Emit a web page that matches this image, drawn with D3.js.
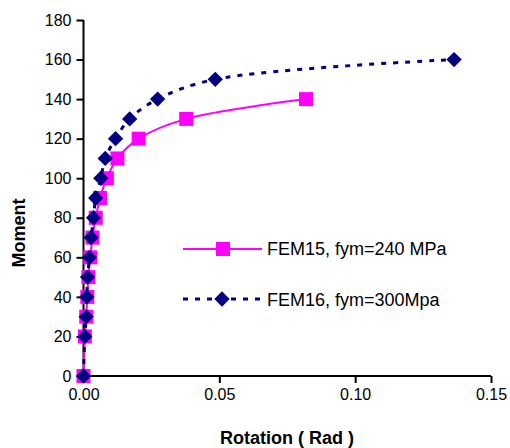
<!DOCTYPE html>
<html>
<head>
<meta charset="utf-8">
<script src="https://cdn.jsdelivr.net/npm/d3@7"></script>
<style>
  html, body { margin: 0; padding: 0; background: #fff; }
  svg { display: block; font-family: Arial, "Liberation Sans", sans-serif; }
</style>
</head>
<body>
<svg id="chart" width="510" height="448"></svg>
<script>
// ---- data ----
const fem15Rotation = [0, 0.0005, 0.0010, 0.0014, 0.0018, 0.0025, 0.0033, 0.0045, 0.0061, 0.0086, 0.0125, 0.0203, 0.0378, 0.0819];
const fem15Moment   = [0, 20, 30, 40, 50, 60, 70, 80, 90, 100, 110, 120, 130, 140];
const fem16Rotation = [0, 0.0005, 0.0010, 0.0012, 0.0015, 0.0022, 0.0028, 0.0037, 0.0045, 0.0064, 0.0080, 0.0118, 0.0170, 0.0273, 0.0485, 0.1364];
const fem16Moment   = [0, 20, 30, 40, 50, 60, 70, 80, 90, 100, 110, 120, 130, 140, 150, 160];
const xTicks = [0, 0.05, 0.10, 0.15];
const yTicks = [0, 20, 40, 60, 80, 100, 120, 140, 160, 180];
const seriesNames = ["FEM15, fym=240 MPa", "FEM16, fym=300Mpa"];

const svg = d3.select("#chart");
const x = d3.scaleLinear().domain([0, 0.15]).range([83.5, 491]);
const y = d3.scaleLinear().domain([0, 180]).range([376, 20]);

const pink = "#FF00FF", navy = "#000080";

// axes
const xAxis = d3.axisBottom(x).tickValues(xTicks).tickFormat(d3.format(".2f")).tickSize(7).tickPadding(6);
const yAxis = d3.axisLeft(y).tickValues(yTicks).tickFormat(d3.format("d")).tickSize(7).tickPadding(5);

const gx = svg.append("g").attr("transform", `translate(0,${y(0)})`).call(xAxis);
const gy = svg.append("g").attr("transform", `translate(${x(0)},0)`).call(yAxis);
[gx, gy].forEach(g => {
  g.select(".domain").attr("stroke", "#000").attr("stroke-width", 2);
  g.selectAll(".tick line").attr("stroke", "#000").attr("stroke-width", 2);
  g.selectAll(".tick text").attr("font-size", 16).attr("fill", "#000")
   .attr("font-family", "Arial, 'Liberation Sans', sans-serif");
});
gx.select(".domain").attr("d", `M${x(0)},0H${x(0.15)}`);
gy.select(".domain").attr("d", `M0,${y(0)}V${y(180)}`);

// axis titles
svg.append("text").attr("x", 287).attr("y", 444).attr("text-anchor", "middle")
  .attr("font-size", 18).attr("font-weight", "bold").text("Rotation ( Rad )");
svg.append("text").attr("transform", "translate(25,233) rotate(-90)").attr("text-anchor", "middle")
  .attr("font-size", 18).attr("font-weight", "bold").text("Moment");

const line = d3.line().x(d => x(d[0])).y(d => y(d[1])).curve(d3.curveCatmullRom.alpha(0.5));

const d15 = fem15Rotation.map((r, i) => [r, fem15Moment[i]]);
const d16 = fem16Rotation.map((r, i) => [r, fem16Moment[i]]);

// FEM15 line + squares
svg.append("path").datum(d15).attr("d", line).attr("fill", "none").attr("stroke", pink).attr("stroke-width", 2);
const sq = 14;
svg.selectAll(".sq").data(d15).enter().append("rect")
  .attr("x", d => x(d[0]) - sq / 2).attr("y", d => y(d[1]) - sq / 2)
  .attr("width", sq).attr("height", sq).attr("fill", pink);

// FEM16 line + diamonds
svg.append("path").datum(d16).attr("d", line).attr("fill", "none").attr("stroke", navy)
  .attr("stroke-width", 3).attr("stroke-dasharray", "5,7");
const diamond = d3.symbol().type(d3.symbolDiamond2).size(150);
svg.selectAll(".dm").data(d16).enter().append("path")
  .attr("transform", d => `translate(${x(d[0])},${y(d[1])})`)
  .attr("d", diamond).attr("fill", navy);

// legend
const lg = svg.append("g");
lg.append("line").attr("x1", 183).attr("x2", 262).attr("y1", 249).attr("y2", 249).attr("stroke", pink).attr("stroke-width", 2);
lg.append("rect").attr("x", 223 - sq / 2).attr("y", 249 - sq / 2).attr("width", sq).attr("height", sq).attr("fill", pink);
lg.append("text").attr("x", 267).attr("y", 255).attr("font-size", 18).text(seriesNames[0]);
lg.append("line").attr("x1", 183).attr("x2", 262).attr("y1", 299).attr("y2", 299).attr("stroke", navy)
  .attr("stroke-width", 3).attr("stroke-dasharray", "5,7");
lg.append("path").attr("transform", "translate(222,299)").attr("d", diamond).attr("fill", navy);
lg.append("text").attr("x", 267).attr("y", 306).attr("font-size", 18).text(seriesNames[1]);
</script>
</body>
</html>
